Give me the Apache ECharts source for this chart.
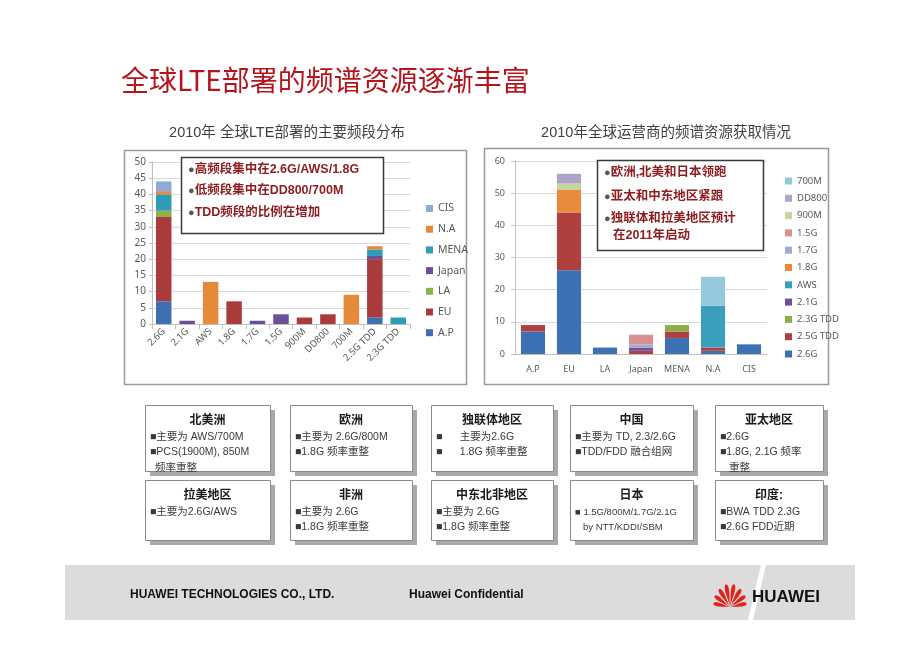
<!DOCTYPE html>
<html><head><meta charset="utf-8">
<script src="https://cdn.jsdelivr.net/npm/echarts@6/dist/echarts.min.js"></script>
<style>html,body{margin:0;padding:0;background:#fff}#c{width:920px;height:651px}</style>
</head><body><div id="c"></div>
<script>
// ---- data ----
const bandCats = ['2.6G','2.1G','AWS','1.8G','1.7G','1.5G','900M','DD800','700M','2.5G TDD','2.3G TDD'];
const regionCats = ['A.P','EU','LA','Japan','MENA','N.A','CIS'];
const apByBand    = [7, 0, 0, 0, 0, 0, 0, 0, 0, 2, 0];
const euByBand    = [26,0, 0, 7, 0, 0, 2, 3, 0, 18,0];
const laByBand    = [2, 0, 0, 0, 0, 0, 0, 0, 0, 0, 0];
const japanByBand = [0, 1, 0, 0, 1, 3, 0, 0, 0, 1, 0];
const menaByBand  = [5, 0, 0, 0, 0, 0, 0, 0, 0, 2, 2];
const naByBand    = [1, 0, 13,0, 0, 0, 0, 0, 9, 1, 0];
const cisByBand   = [3, 0, 0, 0, 0, 0, 0, 0, 0, 0, 0];
const bandStackOrder = ['2.6G','2.5G TDD','2.3G TDD','2.1G','AWS','1.8G','1.7G','1.5G','900M','DD800','700M'];
const yTicksLeft = {min: 0, max: 50, step: 5};
const yTicksRight = {min: 0, max: 60, step: 10};

const regionRows = [apByBand, euByBand, laByBand, japanByBand, menaByBand, naByBand, cisByBand];
const regionColors = ['#3e6fb2','#a93b3b','#8fb04a','#6c4f98','#2e9bb7','#e5893a','#8eabd8'];
const bandColors = {'2.6G':'#3e70b4','2.5G TDD':'#b0403e','2.3G TDD':'#8daf4b','2.1G':'#6c5198','AWS':'#3a9fba',
  '1.8G':'#e98a3d','1.7G':'#a3aad6','1.5G':'#d8918f','900M':'#c3d69b','DD800':'#b2a2c8','700M':'#94c9dd'};

const nz = v => (v === 0 ? null : v);
const series = [];
regionCats.forEach((r, i) => {
  series.push({name: r, type: 'bar', stack: 'a', xAxisIndex: 0, yAxisIndex: 0, barWidth: '66%',
    itemStyle: {color: regionColors[i]}, data: regionRows[i].map(nz)});
});
bandStackOrder.forEach(b => {
  const bi = bandCats.indexOf(b);
  series.push({name: b, type: 'bar', stack: 'b', xAxisIndex: 1, yAxisIndex: 1, barWidth: '67%',
    itemStyle: {color: bandColors[b]}, data: regionRows.map(row => nz(row[bi]))});
});

const LAT = 'Liberation Sans, Noto Sans CJK SC, sans-serif';
const axisLbl = {color: '#595959', fontSize: 10, fontFamily: 'Noto Sans, Liberation Sans, sans-serif'};
const axLine = {show: true, lineStyle: {color: '#bfbfbf'}};

// ---- graphics ----
const g = [];
g.push({type:'text', x: 121, y: 80, z: 10, style:{text:'全球LTE部署的频谱资源逐渐丰富', fill:'#b5141c', font:'28px "Noto Sans CJK SC", sans-serif', verticalAlign:'middle'}});
g.push({type:'text', x: 287, y: 133, z: 10, style:{text:'2010年 全球LTE部署的主要频段分布', fill:'#404040', font:'14.5px ' + LAT, align:'center', verticalAlign:'middle'}});
g.push({type:'text', x: 666, y: 133, z: 10, style:{text:'2010年全球运营商的频谱资源获取情况', fill:'#404040', font:'14.5px ' + LAT, align:'center', verticalAlign:'middle'}});
g.push({type:'rect', z: -1, shape:{x:124.5,y:150.5,width:342,height:234}, style:{fill:'#fff', stroke:'#9a9a9a', lineWidth:1.5}});
g.push({type:'rect', z: -1, shape:{x:484.5,y:148.5,width:344,height:236}, style:{fill:'#fff', stroke:'#9a9a9a', lineWidth:1.5}});
function callout(x, y, w, h, lines) {
  g.push({type:'rect', z: 20, shape:{x:x+0.5,y:y+0.5,width:w,height:h}, style:{fill:'#fff', stroke:'#3a3a3a', lineWidth:1.5}});
  lines.forEach(l => {
    g.push({type:'text', z: 21, x: l[0], y: l[1], style:{
      text: l[2] ? '{b|●}{t|' + l[3] + '}' : '{t|' + l[3] + '}', verticalAlign:'middle',
      rich:{b:{fill:'#5a5a5a', fontSize:11, fontFamily:LAT}, t:{fill:'#8d1c1f', fontSize:12.5, fontWeight:'bold', fontFamily:LAT}}}});
  });
}
callout(181, 157, 202, 76, [[188,170,1,'高频段集中在2.6G/AWS/1.8G'],[188,191,1,'低频段集中在DD800/700M'],[188,213,1,'TDD频段的比例在增加']]);
callout(597, 160, 166, 90, [[604,173,1,'欧洲,北美和日本领跑'],[604,197,1,'亚太和中东地区紧跟'],[604,219,1,'独联体和拉美地区预计'],[613,236,0,'在2011年启动']]);
function box(x, y, w, h, title, lines, small) {
  g.push({type:'rect', z: 5, shape:{x:x+5,y:y+5,width:w,height:h}, style:{fill:'#a9a9a9'}});
  g.push({type:'rect', z: 6, shape:{x:x+0.5,y:y+0.5,width:w,height:h}, style:{fill:'#fff', stroke:'#8a8a8a', lineWidth:1}});
  g.push({type:'text', z: 7, x: x + w/2, y: y + 16, style:{text:title, fill:'#1a1a1a', font:'bold 12px ' + LAT, align:'center', verticalAlign:'middle'}});
  lines.forEach((l, i) => {
    g.push({type:'text', z: 7, x: x + 5 + (l[1] || 0), y: y + 32 + i * 15.5, style:{text:l[0], fill:'#3a3a3a', font:(small ? '9.5px ' : '10.5px ') + LAT, verticalAlign:'middle'}});
  });
}
box(145, 405, 125, 66, '北美洲', [['■主要为 AWS/700M'],['■PCS(1900M), 850M'],['频率重整',5]]);
box(290, 405, 122, 66, '欧洲', [['■主要为 2.6G/800M'],['■1.8G 频率重整']]);
box(431, 405, 122, 66, '独联体地区', [['■      主要为2.6G'],['■      1.8G 频率重整']]);
box(570, 405, 123, 66, '中国', [['■主要为 TD, 2.3/2.6G'],['■TDD/FDD 融合组网']]);
box(715, 405, 108, 66, '亚太地区', [['■2.6G'],['■1.8G, 2.1G 频率'],['重整',9]]);
box(145, 480, 125, 60, '拉美地区', [['■主要为2.6G/AWS']]);
box(290, 480, 122, 60, '非洲', [['■主要为 2.6G'],['■1.8G 频率重整']]);
box(431, 480, 122, 60, '中东北非地区', [['■主要为 2.6G'],['■1.8G 频率重整']]);
box(570, 480, 123, 60, '日本', [['■ 1.5G/800M/1.7G/2.1G'],['by NTT/KDDI/SBM',8]], true);
box(715, 480, 108, 60, '印度:', [['■BWA TDD 2.3G'],['■2.6G FDD近期']]);
g.push({type:'rect', z: 1, shape:{x:65,y:565,width:790,height:55}, style:{fill:'#dcdcdc'}});
g.push({type:'polygon', z: 2, shape:{points:[[761,565],[766,565],[753,620],[748,620]]}, style:{fill:'#fff'}});
g.push({type:'text', z: 3, x: 130, y: 595, style:{text:'HUAWEI TECHNOLOGIES CO., LTD.', fill:'#111', font:'bold 12px ' + LAT, verticalAlign:'middle'}});
g.push({type:'text', z: 3, x: 409, y: 595, style:{text:'Huawei Confidential', fill:'#111', font:'bold 12px ' + LAT, verticalAlign:'middle'}});
g.push({type:'text', z: 3, x: 752, y: 597, style:{text:'HUAWEI', fill:'#111', font:'bold 17px ' + LAT, verticalAlign:'middle'}});
// logo petals (decoration)
[[-78,17],[-54,19],[-31,21],[-10,23],[10,23],[31,21],[54,19],[78,17]].forEach(p => {
  const r = p[0] * Math.PI / 180, L = p[1], cx = 730, cy = 607, W = 3.3, pts = [];
  for (let k = 0; k < 32; k++) {
    const t = k / 32 * Math.PI * 2;
    const u = L * (1 - Math.cos(t)) / 2;
    const v = W * Math.sin(t) * Math.pow((1 - Math.cos(t)) / 2, 1.2);
    pts.push([cx + u * Math.sin(r) + v * Math.cos(r), cy - u * Math.cos(r) + v * Math.sin(r)]);
  }
  g.push({type:'polygon', z: 3, shape:{points: pts}, style:{fill:'#e0241b'}});
});

const option = {
  animation: false,
  backgroundColor: '#fff',
  grid: [
    {left: 152, top: 162, width: 258, height: 162, containLabel: false},
    {left: 515, top: 161, width: 252, height: 193, containLabel: false}
  ],
  xAxis: [
    {gridIndex: 0, type: 'category', data: bandCats, axisLine: axLine, axisTick: {show: true, lineStyle:{color:'#bfbfbf'}},
     axisLabel: Object.assign({}, axisLbl, {rotate: 45, fontSize: 9.5, margin: 6, interval: 0})},
    {gridIndex: 1, type: 'category', data: regionCats, axisLine: axLine, axisTick: {show: false},
     axisLabel: Object.assign({}, axisLbl, {fontSize: 9, margin: 11, interval: 0})}
  ],
  yAxis: [
    {gridIndex: 0, type: 'value', min: yTicksLeft.min, max: yTicksLeft.max, interval: yTicksLeft.step,
     axisLine: axLine, axisTick: {show: true, length: 3, lineStyle:{color:'#bfbfbf'}},
     splitLine: {lineStyle: {color: '#d9d9d9'}}, axisLabel: Object.assign({}, axisLbl, {margin: 6})},
    {gridIndex: 1, type: 'value', min: yTicksRight.min, max: yTicksRight.max, interval: yTicksRight.step,
     axisLine: axLine, axisTick: {show: true, length: 4, lineStyle:{color:'#bfbfbf'}},
     splitLine: {lineStyle: {color: '#d9d9d9'}}, axisLabel: Object.assign({}, axisLbl, {fontSize: 9, margin: 10})}
  ],
  legend: [
    {left: 426, top: 203, orient: 'vertical', itemWidth: 7, itemHeight: 7, itemGap: 9.7, padding: 0, selectedMode: false,
     icon: 'rect', textStyle: {color: '#595959', fontSize: 10.5, lineHeight: 10, fontFamily: 'Noto Sans, sans-serif'},
     data: regionCats.slice().reverse()},
    {left: 785, top: 176, orient: 'vertical', itemWidth: 7, itemHeight: 7, itemGap: 7.3, padding: 0, selectedMode: false,
     icon: 'rect', textStyle: {color: '#595959', fontSize: 9.5, lineHeight: 10, fontFamily: 'Noto Sans, sans-serif'},
     data: bandStackOrder.slice().reverse()}
  ],
  graphic: g,
  series: series
};
const chart = echarts.init(document.getElementById('c'), null, {renderer: 'canvas'});
chart.setOption(option);
</script>
</body></html>
